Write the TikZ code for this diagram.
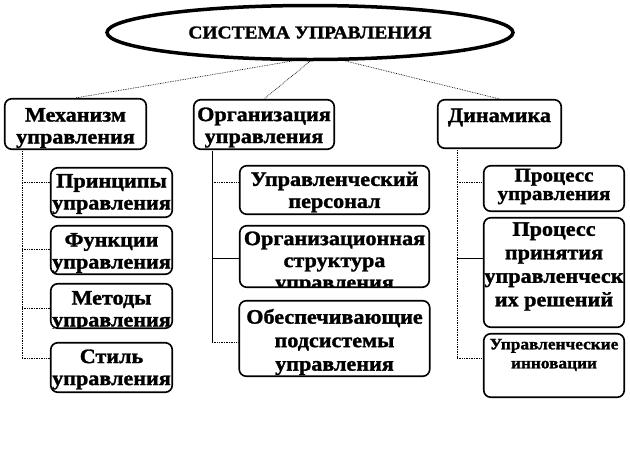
\documentclass[tikz,border=0pt]{standalone}
\usepackage{fontspec}
\setmainfont{Liberation Serif}[BoldFeatures={FakeBold=1.4,FakeStretch=1.08}]
\usetikzlibrary{shapes.geometric,calc}
\tikzset{
  box/.style={draw, rounded corners=7pt, line width=1.6pt, fill=white, inner sep=0pt},
  sysnode/.style={draw, ellipse, line width=3.5pt, fill=white, inner sep=0pt, font=\bfseries\fontsize{18}{20}\selectfont},
  txt/.style={align=center, inner sep=0pt, font=\bfseries\fontsize{20.5}{22}\selectfont},
  tie/.style={densely dotted, line width=0.7pt},
  link/.style={line width=0.7pt},
}
\begin{document}
\begin{tikzpicture}[x=1pt, y=-1pt]
\useasboundingbox (0,0) rectangle (630,459);
% root and the three branches
\node[sysnode, minimum width=406pt, minimum height=54pt] (sys) at (310,32.5) {СИСТЕМА УПРАВЛЕНИЯ};
\node[box, minimum width=141.5pt, minimum height=50.5pt] (mech) at (75.5,124) {};
\node[box, minimum width=140.5pt, minimum height=49.5pt] (org) at (264,124.5) {};
\node[box, minimum width=123.5pt, minimum height=48.5pt] (dyn) at (499.5,124) {};
\node[txt] (mech-t) at (75.5,128) {Механизм\\управления};
\node[txt] (org-t) at (264,127.5) {Организация\\управления};
\node[txt] (dyn-t) at (499.5,117.5) {Динамика};
\draw[tie] (sys.237) -- (mech.north);
\draw[tie] (sys.south) -- (org.north);
\draw[tie] (sys.321) -- (dyn.north);
% left column
\node[box, minimum width=121.5pt, minimum height=49.5pt] (prin) at (111.5,192.5) {};
\node[box, minimum width=121.5pt, minimum height=48.5pt] (func) at (111.5,250) {};
\node[box, minimum width=121.5pt, minimum height=44.5pt] (meth) at (111.5,306) {};
\node[box, minimum width=121.5pt, minimum height=49.5pt] (styl) at (111.5,367.5) {};
\node[txt] (prin-t) at (111.5,194) {Принципы\\управления};
\node[txt] (func-t) at (111.5,253) {Функции\\управления};
\begin{scope}
  \clip ([shift={(1pt,1pt)}]meth.south west) rectangle ([shift={(-1pt,-1pt)}]meth.north east);
  \node[txt] (meth-t) at (111.5,311) {Методы\\управления};
\end{scope}
\node[txt] (styl-t) at (111.5,369.5) {Стиль\\управления};
% middle column
\node[box, minimum width=189.5pt, minimum height=48.5pt] (pers) at (334.5,190) {};
\node[box, minimum width=189.5pt, minimum height=61.5pt] (stru) at (334.5,256.5) {};
\node[box, minimum width=190.5pt, minimum height=75.5pt] (supp) at (334.5,338.5) {};
\node[txt] (pers-t) at (334.5,192) {Управленческий\\персонал};
\begin{scope}
  \clip ([shift={(1pt,1pt)}]stru.south west) rectangle ([shift={(-1pt,-1pt)}]stru.north east);
  \node[txt] (stru-t) at (334.5,262.5) {Организационная\\структура\\управления};
\end{scope}
\node[txt, font=\bfseries\fontsize{20.5}{23.5}\selectfont] (supp-t) at (334.5,342) {Обеспечивающие\\подсистемы\\управления};
% right column
\node[box, minimum width=140.5pt, minimum height=45.5pt] (proc) at (554,188.5) {};
\node[box, minimum width=140.5pt, minimum height=109.5pt] (dec) at (554,272.5) {};
\node[box, minimum width=140.5pt, minimum height=63.5pt] (inno) at (554,365.5) {};
\node[txt, font=\bfseries\fontsize{19.5}{18.5}\selectfont] (proc-t) at (554,186.5) {Процесс\\управления};
\node[txt, font=\bfseries\fontsize{20.5}{23.5}\selectfont] (dec-t) at (554,266.5) {Процесс\\принятия\\управленческ\\их решений};
\node[txt, font=\bfseries\fontsize{16}{19}\selectfont] (inno-t) at (554,355) {Управленческие\\инновации};
% connectors
\coordinate (mech-v) at (22,151);
\coordinate (org-v) at (212,151);
\coordinate (dyn-v) at (457,150);
\foreach \b/\s in {prin/10.5, func/1, meth/-2, styl/9.5, pers/8, stru/-1.5, supp/-4, proc/6.5, dec/14.5, inno/7.5}
  \coordinate (\b-in) at ([yshift=\s pt]\b.west);
\draw[tie] (mech-v) -- (mech-v |- styl-in);
\foreach \b in {prin,func,meth,styl}
  \draw[tie] (mech-v |- \b-in) -- (\b-in);
\draw[link] (org-v) -- (org-v |- supp-in);
\draw[tie] (org-v |- pers-in) -- (pers-in);
\draw[link] (org-v |- stru-in) -- (stru-in);
\draw[tie] (org-v |- supp-in) -- (supp-in);
\draw[tie] (dyn-v) -- (dyn-v |- inno-in);
\draw[tie] (dyn-v |- proc-in) -- (proc-in);
\draw[link] (dyn-v |- dec-in) -- (dec-in);
\draw[tie] (dyn-v |- inno-in) -- (inno-in);
\end{tikzpicture}
\end{document}
